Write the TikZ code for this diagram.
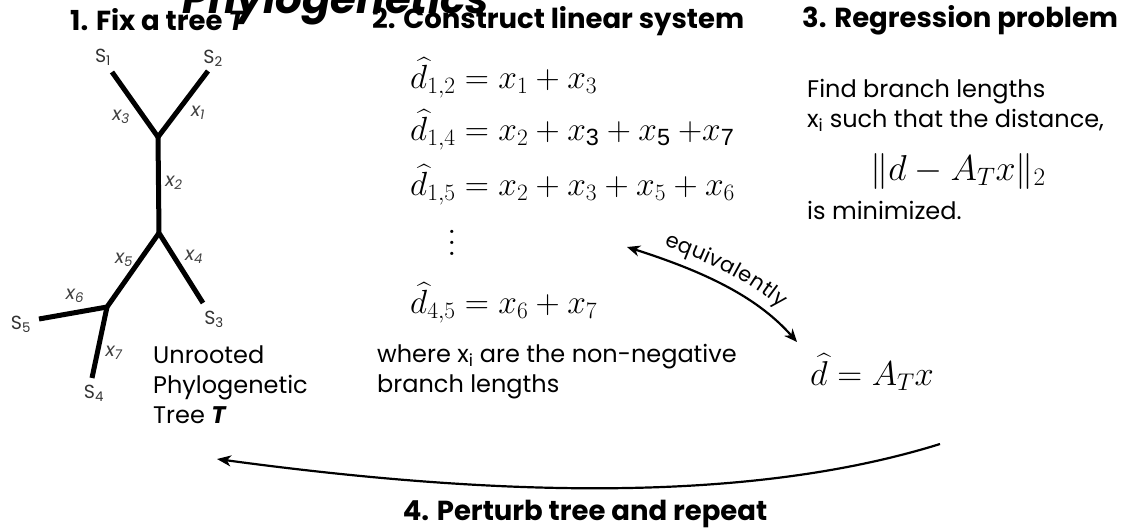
\RequirePackage{fix-cm}
\documentclass[tikz,border=0pt]{standalone}
\usepackage{amsmath}
\usepackage{fontspec}
\setmainfont{Poppins}
\newfontfamily\arialfont{Liberation Sans}
\usetikzlibrary{arrows.meta,decorations.text}
\newcommand\ssub[1]{\text{\arialfont #1}}
\newcommand\bigvdots{\vbox{\baselineskip=11pt\lineskiplimit=0pt\hbox{$.$}\hbox{$.$}\hbox{$.$}}}
\tikzset{
  heading/.style={font=\fontsize{27.5}{32}\selectfont\bfseries, inner sep=0pt},
  bodytext/.style={font=\fontsize{24}{30}\selectfont, inner sep=0pt, align=left},
  eqn/.style={font=\fontsize{33.5}{40}\selectfont, inner sep=0pt, anchor=base west},
  branch/.style={line width=5pt},
  leaflabel/.style={font=\fontsize{19}{22}\selectfont, text=black!80, inner sep=0pt},
  brlabel/.style={font=\fontsize{19}{22}\selectfont\itshape, text=black!75, inner sep=0pt},
  arr/.style={line width=2.2pt, -{Stealth[length=14pt,width=11pt,inset=4pt]}},
}
\begin{document}
\begin{tikzpicture}[x=1pt,y=-1pt]
\useasboundingbox (0,0) rectangle (1134,528);

% title (cut off at top)
\node[anchor=base west, inner sep=0pt, font=\fontsize{42}{48}\selectfont\bfseries\itshape] (title) at (182,13) {Phylogenetics};

% headings
\node[heading, anchor=base west] (h1) at (70,30) {1. Fix a tree \textit{T}};
\node[heading, anchor=base west] (h2) at (372,28) {2. Construct linear system};
\node[heading, anchor=base west] (h3) at (802,27) {3. Regression problem};
\node[heading, anchor=base] (h4) at (585,520) {4. Perturb tree and repeat};

% tree
\coordinate (s1) at (112,72);
\coordinate (s2) at (208,71);
\coordinate (a) at (158,137);
\coordinate (b) at (159,233);
\coordinate (s3) at (203,303);
\coordinate (c) at (107,307);
\coordinate (s5) at (39,319);
\coordinate (s4) at (92,378);
\draw[branch] (s1) -- (a) -- (s2);
\draw[branch] (a) -- (b) -- (s3);
\draw[branch] (b) -- (c) -- (s5);
\draw[branch] (c) -- (s4);

\node[leaflabel] (ls1) at (103,57) {S\textsubscript{1}};
\node[leaflabel] (ls2) at (213,58) {S\textsubscript{2}};
\node[leaflabel] (ls3) at (214,319) {S\textsubscript{3}};
\node[leaflabel] (ls5) at (21,324) {S\textsubscript{5}};
\node[leaflabel] (ls4) at (94,393) {S\textsubscript{4}};

\node[brlabel] (lx3) at (121,117) {x\textsubscript{3}};
\node[brlabel] (lx1) at (198,113) {x\textsubscript{1}};
\node[brlabel] (lx2) at (174,183) {x\textsubscript{2}};
\node[brlabel] (lx5) at (124,260) {x\textsubscript{5}};
\node[brlabel] (lx4) at (194,257) {x\textsubscript{4}};
\node[brlabel] (lx6) at (75,296) {x\textsubscript{6}};
\node[brlabel] (lx7) at (114,353) {x\textsubscript{7}};

\node[bodytext, anchor=base west] (tcap) at (153,423) {Unrooted\\Phylogenetic\\Tree \textbf{\textit{T}}};

% linear system
\node[eqn] (e1) at (410,88) {$\widehat{d}_{1,2} = x_1 + x_3$};
\node[eqn] (e2) at (410,140) {$\widehat{d}_{1,4} = x_2 + x_{\ssub{3}} + x_{\ssub{5}} \mskip\medmuskip {+} x_{\ssub{7}}$};
\node[eqn] (e3) at (410,195) {$\widehat{d}_{1,5} = x_2 + x_3 + x_5 + x_6$};
\node[inner sep=0pt, font=\fontsize{33.5}{40}\selectfont] (vd) at (452,243) {\bigvdots};
\node[eqn] (e4) at (410,313) {$\widehat{d}_{4,5} = x_6 + x_7$};
\node[bodytext, anchor=base west] (where) at (377,392) {where x\textsubscript{i} are the non-negative\\branch lengths};

% regression
\node[bodytext, anchor=base west] (find) at (807,127) {Find branch lengths\\x\textsubscript{i} such that the distance,};
\node[eqn, anchor=base, font=\fontsize{36}{42}\selectfont] (norm) at (958,180) {$\|d - A_T x\|_2$};
\node[bodytext, anchor=base west] (minz) at (807,219) {is minimized.};

% equivalent form
\node[eqn, font=\fontsize{34.5}{40}\selectfont] (dhat) at (810,385) {$\widehat{d} = A_T x$};

% equivalently arrow
\coordinate (eqA) at (627,247);
\coordinate (eqB) at (797,342);
\draw[line width=2.2pt, {Stealth[length=13pt,width=11pt,inset=4pt]}-{Stealth[length=13pt,width=11pt,inset=4pt]}]
  (eqA) .. controls (712,274) and (760,300) .. (eqB);
\path[decorate, decoration={text along path, text align=center, raise=13pt,
  text={|\fontsize{21}{24}\selectfont|equivalently}}]
  (eqA) .. controls (712,274) and (760,300) .. (eqB);

% loop arrow
\coordinate (loopS) at (940,444);
\coordinate (loopE) at (217,459);
\draw[arr] (loopS) .. controls (760,500) and (520,500) .. (loopE);
\end{tikzpicture}
\end{document}
